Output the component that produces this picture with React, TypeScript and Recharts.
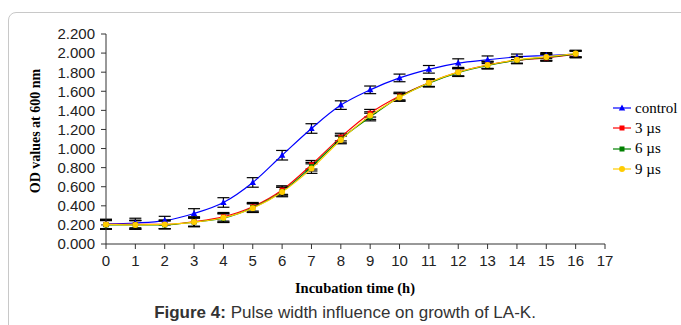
import { ErrorBar, Line, LineChart, XAxis, YAxis } from 'recharts';

const hours = [0, 1, 2, 3, 4, 5, 6, 7, 8, 9, 10, 11, 12, 13, 14, 15, 16];
const control = [0.21, 0.22, 0.245, 0.32, 0.435, 0.645, 0.93, 1.21, 1.455, 1.615, 1.74, 1.83, 1.895, 1.93, 1.96, 1.975, 1.99];
const us3 = [0.205, 0.205, 0.205, 0.235, 0.285, 0.39, 0.565, 0.83, 1.12, 1.37, 1.55, 1.69, 1.8, 1.875, 1.925, 1.95, 1.985];
const us6 = [0.2, 0.2, 0.2, 0.23, 0.27, 0.38, 0.55, 0.81, 1.1, 1.33, 1.54, 1.685, 1.795, 1.87, 1.925, 1.955, 1.99];
const us9 = [0.205, 0.2, 0.205, 0.23, 0.275, 0.375, 0.545, 0.79, 1.09, 1.345, 1.535, 1.69, 1.8, 1.875, 1.93, 1.96, 1.995];
const controlErr = [0.05, 0.05, 0.045, 0.05, 0.05, 0.05, 0.05, 0.05, 0.045, 0.04, 0.04, 0.04, 0.045, 0.04, 0.03, 0.03, 0.03];
const us3Err = [0.05, 0.045, 0.045, 0.05, 0.045, 0.045, 0.045, 0.045, 0.04, 0.04, 0.04, 0.04, 0.04, 0.04, 0.035, 0.035, 0.035];
const us6Err = [0.045, 0.045, 0.04, 0.045, 0.045, 0.045, 0.045, 0.045, 0.04, 0.04, 0.04, 0.04, 0.04, 0.035, 0.035, 0.035, 0.035];
const us9Err = [0.045, 0.045, 0.045, 0.05, 0.045, 0.045, 0.05, 0.05, 0.04, 0.04, 0.04, 0.04, 0.04, 0.035, 0.035, 0.035, 0.035];
const xTicks = [0, 1, 2, 3, 4, 5, 6, 7, 8, 9, 10, 11, 12, 13, 14, 15, 16, 17];
const yTicks = [0, 0.2, 0.4, 0.6, 0.8, 1.0, 1.2, 1.4, 1.6, 1.8, 2.0, 2.2];

const data = hours.map((t, i) => ({
  t,
  control: control[i],
  controlErr: controlErr[i],
  us3: us3[i],
  us3Err: us3Err[i],
  us6: us6[i],
  us6Err: us6Err[i],
  us9: us9[i],
  us9Err: us9Err[i],
}));

type Shape = 'triangle' | 'square' | 'diamond';

const series: { key: string; name: string; color: string; shape: Shape }[] = [
  { key: 'control', name: 'control', color: '#0000ff', shape: 'triangle' },
  { key: 'us3', name: '3 µs', color: '#ff0000', shape: 'square' },
  { key: 'us6', name: '6 µs', color: '#008000', shape: 'square' },
  { key: 'us9', name: '9 µs', color: '#ffcc00', shape: 'diamond' },
];

function marker(shape: Shape, cx: number, cy: number, color: string, key?: string) {
  if (shape === 'triangle') {
    return <path key={key} d={`M${cx},${cy - 3.5}L${cx + 3.2},${cy + 2.5}L${cx - 3.2},${cy + 2.5}Z`} fill={color} />;
  }
  if (shape === 'square') {
    return <rect key={key} x={cx - 2.5} y={cy - 2.5} width={5} height={5} fill={color} />;
  }
  return <circle key={key} cx={cx} cy={cy} r={3} fill={color} />;
}

const serif = '"Liberation Serif", "Times New Roman", serif';
const sans = '"Liberation Sans", Arial, sans-serif';

// legend sits outside the chart so it doesn't eat into the plot width
function LegendBox() {
  return (
    <div style={{ position: 'absolute', left: 613, top: 98, fontFamily: serif, fontSize: 15, color: '#000' }}>
      {series.map((s) => (
        <div key={s.key} style={{ display: 'flex', alignItems: 'center', height: 20.3 }}>
          <svg width={19} height={10} style={{ marginRight: 3 }}>
            <line x1={0} y1={5} x2={18} y2={5} stroke={s.color} strokeWidth={1.2} />
            {marker(s.shape, 9, 5, s.color)}
          </svg>
          <span>{s.name}</span>
        </div>
      ))}
    </div>
  );
}

export default function App() {
  return (
    <div style={{ position: 'fixed', left: 0, top: 0, width: 681, height: 325, background: '#fff', overflow: 'hidden' }}>
      <div
        style={{
          position: 'absolute',
          left: 8,
          top: 12,
          width: 720,
          height: 340,
          border: '1px solid #c8c8c8',
          borderRadius: 8,
        }}
      />
      <div style={{ position: 'absolute', left: 0, top: 0 }}>
        <LineChart width={681} height={290} data={data} margin={{ top: 34, right: 76, left: 0, bottom: 16 }}>
          <XAxis
            dataKey="t"
            type="number"
            domain={[0, 17]}
            ticks={xTicks}
            interval={0}
            height={30}
            stroke="#333"
            tickSize={5}
            tickMargin={6}
            tick={{ fill: '#222', fontSize: 15, fontFamily: sans }}
          />
          <YAxis
            type="number"
            domain={[0, 2.2]}
            ticks={yTicks}
            interval={0}
            width={106}
            stroke="#333"
            tickSize={5}
            tickMargin={6}
            tickFormatter={(v: number) => v.toFixed(3)}
            tick={{ fill: '#222', fontSize: 15, fontFamily: sans }}
          />
          {series.map((s) => (
            <Line
              key={s.key}
              dataKey={s.key}
              name={s.name}
              type="monotone"
              stroke={s.color}
              strokeWidth={1.2}
              isAnimationActive={false}
              dot={(p: any) => marker(s.shape, p.cx, p.cy, s.color, `${s.key}-${p.index}`)}
              activeDot={false}
            >
              <ErrorBar dataKey={`${s.key}Err`} direction="y" width={6} stroke="#000" strokeWidth={1.2} isAnimationActive={false} />
            </Line>
          ))}
        </LineChart>
      </div>
      <LegendBox />
      <div
        style={{
          position: 'absolute',
          left: 36,
          top: 131,
          transform: 'translate(-50%, -50%) rotate(-90deg)',
          whiteSpace: 'nowrap',
          fontFamily: serif,
          fontWeight: 'bold',
          fontSize: 14,
          color: '#000',
        }}
      >
        OD values at 600 nm
      </div>
      <div
        style={{
          position: 'absolute',
          left: 355,
          top: 288,
          transform: 'translate(-50%, -50%)',
          whiteSpace: 'nowrap',
          fontFamily: serif,
          fontWeight: 'bold',
          fontSize: 14.5,
          color: '#000',
        }}
      >
        Incubation time (h)
      </div>
      <div
        style={{
          position: 'absolute',
          left: 345,
          top: 313,
          transform: 'translate(-50%, -50%)',
          whiteSpace: 'nowrap',
          fontFamily: sans,
          fontSize: 17,
          color: '#333',
        }}
      >
        <b>Figure 4:</b> Pulse width influence on growth of LA-K.
      </div>
    </div>
  );
}
